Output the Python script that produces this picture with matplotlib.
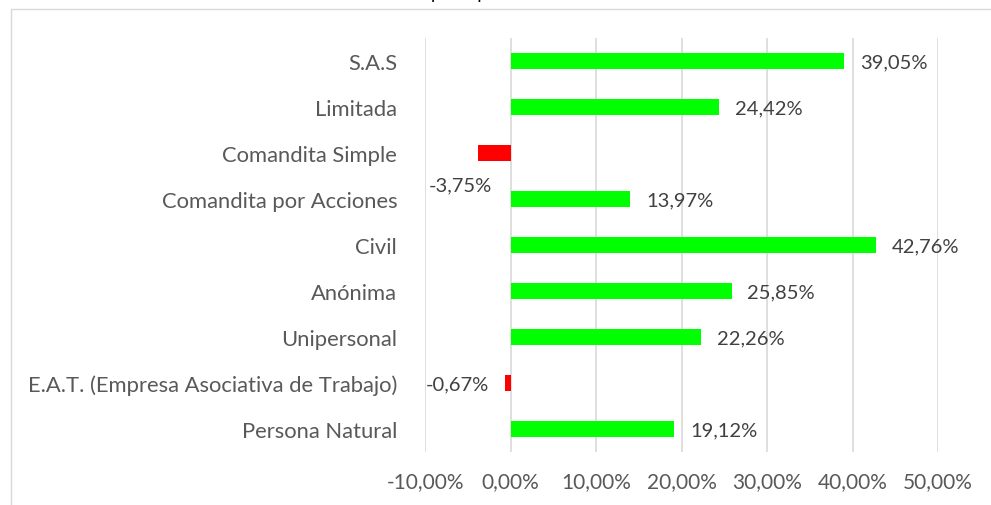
import matplotlib
matplotlib.use("Agg")
import matplotlib.pyplot as plt
from matplotlib.patches import Rectangle

categories = ["S.A.S", "Limitada", "Comandita Simple", "Comandita por Acciones",
              "Civil", "Anónima", "Unipersonal",
              "E.A.T. (Empresa Asociativa de Trabajo)", "Persona Natural"]
values = [39.05, 24.42, -3.75, 13.97, 42.76, 25.85, 22.26, -0.67, 19.12]
labels = ["39,05%", "24,42%", "-3,75%", "13,97%", "42,76%", "25,85%", "22,26%", "-0,67%", "19,12%"]
xticks = [-10, 0, 10, 20, 30, 40, 50]
xticklabels = ["-10,00%", "0,00%", "10,00%", "20,00%", "30,00%", "40,00%", "50,00%"]
title = "Crecimiento por Tipo de Sociedad"

plt.rcParams['font.family'] = ['Lato', 'DejaVu Sans']

W, H = 991, 506
fig = plt.figure(figsize=(W / 100, H / 100), dpi=100)

# chart border (extends beyond image right/bottom)
fig.patches.append(Rectangle((11 / W, -0.1), 1.2, 1 - 10 / H + 0.1, transform=fig.transFigure,
                             fill=False, edgecolor="#d9d9d9", linewidth=1.0))

ax = fig.add_axes([425 / W, 53 / H, 513 / W, 414.3 / H])
y = list(range(len(categories)))
colors = ["#00ff00" if v >= 0 else "#ff0000" for v in values]
ax.barh(y, values, height=0.35, color=colors, zorder=3)
ax.set_ylim(len(categories) - 0.5, -0.5)
ax.set_xlim(-10, 50)
ax.set_xticks(xticks)
ax.set_xticklabels(xticklabels)
ax.set_yticks(y)
ax.set_yticklabels(categories)
ax.tick_params(axis='both', length=0, colors="#595959")
ax.tick_params(axis='x', pad=14, labelsize=15)
ax.tick_params(axis='y', pad=20, labelsize=15.8)
ax.grid(axis='x', color="#d9d9d9", linewidth=1.2, zorder=0)
for s in ax.spines.values():
    s.set_visible(False)

for i, (v, lab) in enumerate(zip(values, labels)):
    if lab == "-3,75%":
        ax.annotate(lab, xy=(v, i), xytext=(-13, -23), textcoords="offset points",
                    ha="center", va="center", fontsize=14.5, color="#404040")
    elif v >= 0:
        ax.annotate(lab, xy=(v, i), xytext=(11.5, -1), textcoords="offset points",
                    ha="left", va="center", fontsize=14.5, color="#404040")
    else:
        ax.annotate(lab, xy=(v, i), xytext=(-11.5, -1), textcoords="offset points",
                    ha="right", va="center", fontsize=14.5, color="#404040")

fig.text(463.5 / W, 1 + 1.0 / H, title, ha="center", va="baseline", fontsize=13,
         color="#000000")

fig.savefig("out.png", dpi=100)
